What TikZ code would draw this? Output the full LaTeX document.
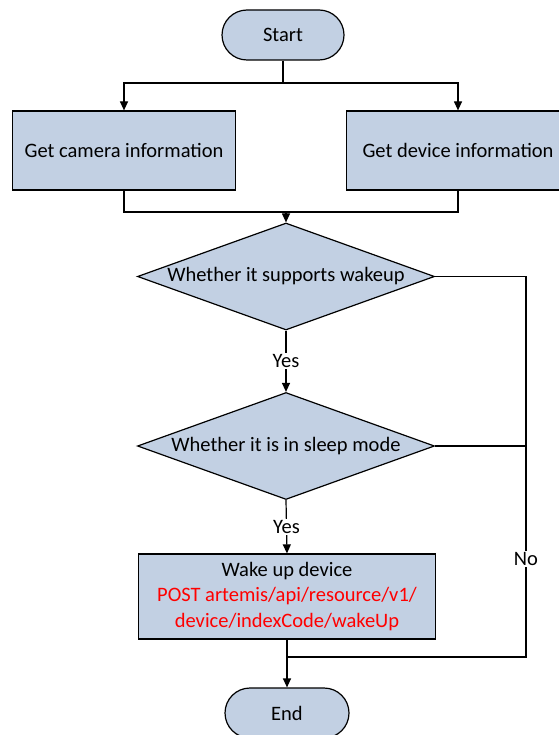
\documentclass[tikz,border=0pt]{standalone}
\usepackage{fontspec}
\setmainfont{Carlito}
\usetikzlibrary{shapes.geometric,shapes.misc,arrows.meta,calc}
\definecolor{boxfill}{HTML}{C2D0E3}
\definecolor{apired}{HTML}{FF0000}
\tikzset{
  base/.style={draw=black, line width=1.2pt, fill=boxfill, font=\fontsize{20.5}{25.5}\selectfont, align=center, inner sep=0pt},
  term/.style={base, rounded rectangle, minimum width=122pt, minimum height=50pt},
  proc/.style={base, rectangle, minimum width=223pt, minimum height=79pt},
  decide/.style={base, diamond, minimum width=297pt, minimum height=107pt, shape aspect=2.78},
  conn/.style={line width=1.2pt},
  arr/.style={conn, -{Triangle[width=8pt,length=9pt]}},
  lab/.style={fill=white, inner sep=1.5pt, font=\fontsize{20.5}{25}\selectfont}
}
\begin{document}
\begin{tikzpicture}[x=1pt,y=-1pt]
\useasboundingbox (0,0) rectangle (558,735);
\node[term] (start) at (283,35) {Start};
\node[proc] (cam) at (124,150.5) {Get camera information};
\node[proc] (dev) at (458,150.5) {Get device information};
\node[decide] (d1) at (286,276.5) {Whether it supports wakeup};
\node[decide] (d2) at (286,446) {Whether it is in sleep mode};
\node[base, rectangle, minimum width=297pt, minimum height=85pt] (wake) at (287,596.5)
  {Wake up device\\\textcolor{apired}{POST artemis/api/resource/v1/}\\\textcolor{apired}{device/indexCode/wakeUp}};
\node[term, minimum width=124pt] (end) at (287,713) {End};
\coordinate (j1) at (283,83);
\coordinate (j2) at (286,212);
\coordinate (jr) at (526,657);
\coordinate (j3) at (287,657);
\draw[conn] (start) -- (j1);
\draw[arr] (j1) -| (cam.north);
\draw[arr] (j1) -| (dev.north);
\draw[conn] (cam.south) |- (j2);
\draw[conn] (dev.south) |- (j2);
\draw[arr] (j2) -- (d1.north);
\draw[arr] (d1.south) -- node[lab] (y1) {Yes} (d2.north);
\draw[arr] (d2.south) -- node[lab] (y2) {Yes} (wake.north);
\draw[conn] (d1.east) -| (jr) -- (j3);
\draw[conn] (d2.east) -- (d2.east -| jr);
\node[lab] (no) at (526,559) {No};
\draw[arr] (wake.south) -- (end.north);
\end{tikzpicture}
\end{document}
